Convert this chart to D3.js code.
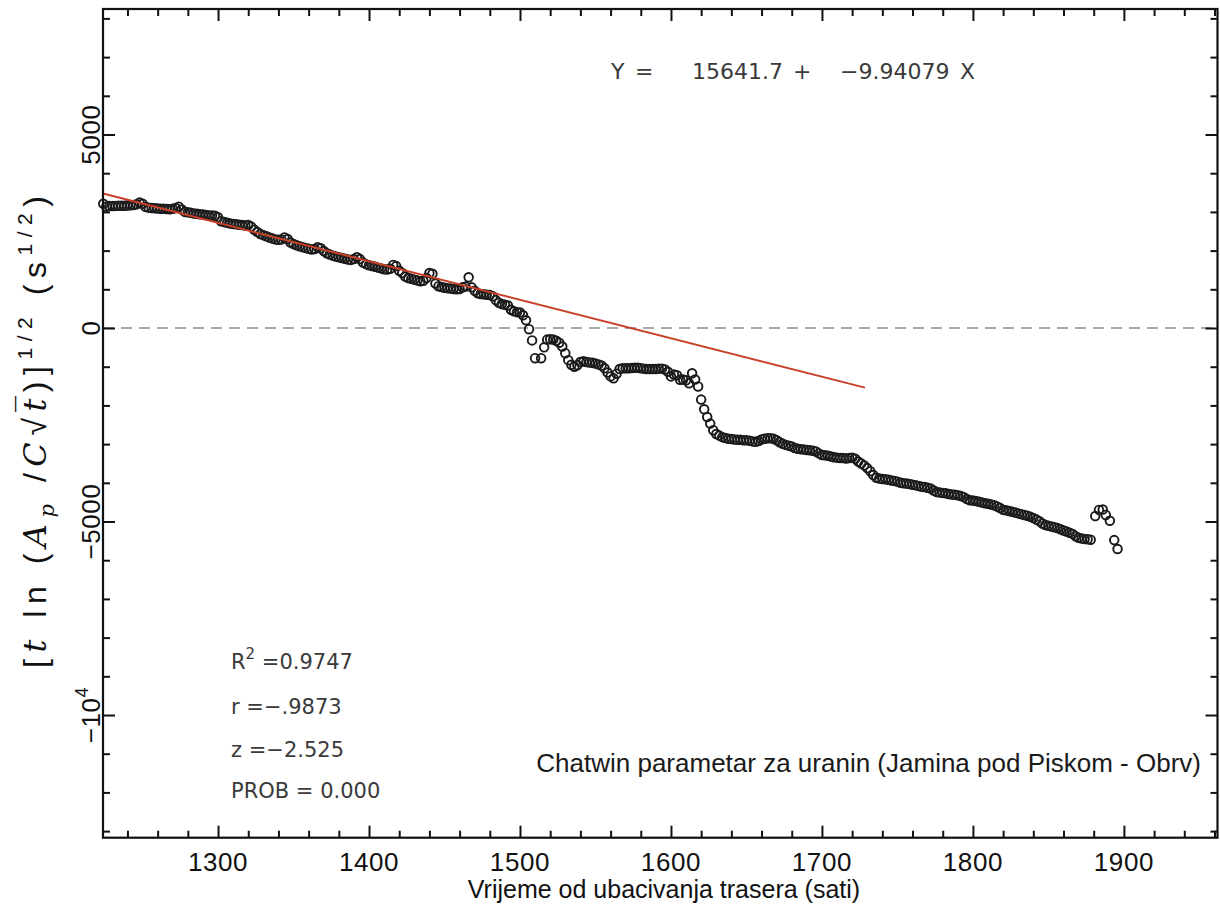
<!DOCTYPE html>
<html><head><meta charset="utf-8">
<script src="https://cdn.jsdelivr.net/npm/d3@7"></script>
<style>body{margin:0;background:#fff}</style>
</head><body>
<svg id="chart" width="1220" height="905"></svg>
<script>
// ---- data ----
const hours = [
1224,1226,1228,1230,1232,1234,1236,1238,1240,1242,1244,1246,1248,1250,1252,1254,1256,1258,1260,1262,
1264,1266,1268,1270,1272,1274,1276,1278,1280,1282,1284,1286,1288,1290,1292,1294,1296,1298,1300,1302,
1304,1306,1308,1310,1312,1314,1316,1318,1320,1322,1324,1326,1328,1330,1332,1334,1336,1338,1340,1342,
1344,1346,1348,1350,1352,1354,1356,1358,1360,1362,1364,1366,1368,1370,1372,1374,1376,1378,1380,1382,
1384,1386,1388,1390,1392,1394,1396,1398,1400,1402,1404,1406,1408,1410,1412,1414,1416,1418,1420,1422,
1424,1426,1428,1430,1432,1434,1436,1438,1440,1442,1444,1446,1448,1450,1452,1454,1456,1458,1460,1462,
1464,1466,1468,1470,1472,1474,1476,1478,1480,1482,1484,1486,1488,1490,1492,1494,1496,1498,1500,1502,
1504,1506,1508,1510,1514,1516,1518,1520,1522,1524,1526,1528,1530,1532,1534,1536,1538,1540,1542,1544,
1546,1548,1550,1552,1554,1556,1558,1560,1562,1564,1566,1568,1570,1572,1574,1576,1578,1580,1582,1584,
1586,1588,1590,1592,1594,1596,1598,1600,1602,1604,1606,1608,1610,1612,1614,1616,1618,1620,1622,1624,
1626,1628,1630,1632,1634,1636,1638,1640,1642,1644,1646,1648,1650,1652,1654,1656,1658,1660,1662,1664,
1666,1668,1670,1672,1674,1676,1678,1680,1682,1684,1686,1688,1690,1692,1694,1696,1698,1700,1702,1704,
1706,1708,1710,1712,1714,1716,1718,1720,1722,1724,1726,1728,1730,1732,1734,1736,1738,1740,1742,1744,
1746,1748,1750,1752,1754,1756,1758,1760,1762,1764,1766,1768,1770,1772,1774,1776,1778,1780,1782,1784,
1786,1788,1790,1792,1794,1796,1798,1800,1802,1804,1806,1808,1810,1812,1814,1816,1818,1820,1822,1824,
1826,1828,1830,1832,1834,1836,1838,1840,1842,1844,1846,1848,1850,1852,1854,1856,1858,1860,1862,1864,
1866,1868,1870,1872,1874,1876,1878,1881,1883.5,1886,1888,1890.7,1893.6,1895.8
];
const chatwin = [
3210,3140,3150,3150,3155,3160,3160,3160,3165,3170,3180,3200,3240,3210,3130,3110,3100,3095,3090,3080,
3080,3075,3070,3080,3100,3135,3060,3000,2990,2980,2960,2950,2940,2930,2920,2910,2910,2900,2860,2760,
2740,2720,2700,2690,2680,2670,2660,2650,2660,2620,2540,2480,2430,2400,2370,2340,2310,2290,2280,2290,
2340,2300,2210,2170,2140,2110,2090,2070,2050,2030,2040,2090,2060,1990,1930,1900,1870,1850,1830,1810,
1790,1770,1760,1780,1830,1780,1690,1650,1620,1600,1580,1560,1540,1520,1510,1530,1630,1600,1480,1420,
1330,1290,1270,1250,1230,1210,1220,1290,1420,1400,1150,1080,1060,1040,1030,1020,1010,1000,1010,1050,
1070,1310,1050,960,900,880,870,860,850,820,720,650,620,600,580,470,430,410,400,330,
200,-30,-320,-780,-780,-500,-300,-290,-300,-330,-380,-480,-650,-830,-950,-1000,-960,-880,-860,-880,
-890,-900,-920,-940,-970,-1040,-1150,-1250,-1300,-1180,-1060,-1040,-1040,-1040,-1035,-1030,-1030,-1040,-1050,-1060,
-1060,-1060,-1060,-1050,-1050,-1070,-1130,-1250,-1200,-1220,-1340,-1330,-1350,-1430,-1170,-1330,-1510,-1850,-2100,-2300,
-2470,-2640,-2740,-2780,-2820,-2840,-2860,-2870,-2880,-2890,-2890,-2900,-2900,-2910,-2930,-2940,-2920,-2880,-2860,-2850,
-2850,-2860,-2900,-2950,-2990,-3020,-3040,-3060,-3100,-3120,-3130,-3140,-3150,-3160,-3170,-3190,-3240,-3280,-3290,-3300,
-3320,-3340,-3350,-3360,-3360,-3370,-3360,-3350,-3380,-3450,-3500,-3550,-3620,-3700,-3800,-3870,-3890,-3900,-3910,-3920,
-3940,-3950,-3970,-4000,-4010,-4020,-4030,-4050,-4060,-4080,-4100,-4110,-4130,-4150,-4200,-4240,-4250,-4260,-4270,-4290,
-4300,-4310,-4320,-4340,-4370,-4420,-4450,-4460,-4470,-4490,-4510,-4530,-4540,-4560,-4580,-4610,-4650,-4700,-4710,-4730,
-4750,-4770,-4790,-4810,-4830,-4850,-4880,-4910,-4950,-4990,-5050,-5090,-5110,-5130,-5150,-5170,-5200,-5230,-5260,-5290,
-5320,-5380,-5420,-5440,-5450,-5460,-5470,-4860,-4700,-4690,-4830,-4980,-5480,-5710
];
const xMajorTicks = [1300,1400,1500,1600,1700,1800,1900];
const yMajorTicks = [5000,0,-5000,-10000];
const yTickBase = ["5000","0","\u22125000","\u221210"];
const yTickSup = ["","","","4"];
const fitIntercept = 15641.7;
const fitSlope = -9.94079;
const fitHours = [1223.8, 1728.5];
const equationParts = ["Y","=","15641.7","+","\u22129.94079","X"];
const statLabels = ["r =\u2212.9873","z =\u22122.525","PROB = 0.000"];
const noteText = "Chatwin parametar za uranin (Jamina pod Piskom - Obrv)";
const xTitle = "Vrijeme od ubacivanja trasera (sati)";

// ---- layout ----
const L = 103, R = 1217.5, T = 9, B = 837.7;
const svg = d3.select("#chart");
const x = d3.scaleLinear().domain([1223.8, 1962]).range([L, R]);
const y = d3.scaleLinear().domain([-13170, 8243]).range([B, T]);
const sans = "'Liberation Sans', Arial, sans-serif";
const dv = "'DejaVu Sans', sans-serif";

// zero dashed line
svg.append("line").attr("x1", L).attr("x2", R).attr("y1", y(0)).attr("y2", y(0))
  .attr("stroke", "#a8a8a8").attr("stroke-width", 1.8).attr("stroke-dasharray", "11,7");

// points
svg.append("g").selectAll("circle").data(hours.map((h, i) => [h, chatwin[i]])).join("circle")
  .attr("cx", d => x(d[0])).attr("cy", d => y(d[1])).attr("r", 4.3)
  .attr("fill", "none").attr("stroke", "#1a1a1a").attr("stroke-width", 1.9);

// regression line
svg.append("line")
  .attr("x1", x(fitHours[0])).attr("y1", y(fitIntercept + fitSlope * fitHours[0]))
  .attr("x2", x(fitHours[1])).attr("y2", y(fitIntercept + fitSlope * fitHours[1]))
  .attr("stroke", "#c9402a").attr("stroke-width", 2);

// axes (inward ticks)
const xMinor = d3.range(1240, 1962, 20).filter(v => v % 100 !== 0);
const yMinor = d3.range(-13000, 8243, 1000).filter(v => v % 5000 !== 0);
function styleAxis(g) { g.select(".domain").remove(); g.selectAll("line").attr("stroke", "#111").attr("stroke-width", 2); g.selectAll("text").remove(); }
svg.append("g").attr("transform", `translate(0,${B})`).call(d3.axisBottom(x).tickValues(xMajorTicks).tickSize(-12)).call(styleAxis);
svg.append("g").attr("transform", `translate(0,${B})`).call(d3.axisBottom(x).tickValues(xMinor).tickSize(-7)).call(styleAxis);
svg.append("g").attr("transform", `translate(0,${T})`).call(d3.axisTop(x).tickValues(xMajorTicks).tickSize(-12)).call(styleAxis);
svg.append("g").attr("transform", `translate(0,${T})`).call(d3.axisTop(x).tickValues(xMinor).tickSize(-7)).call(styleAxis);
svg.append("g").attr("transform", `translate(${L},0)`).call(d3.axisLeft(y).tickValues(yMajorTicks).tickSize(-12)).call(styleAxis);
svg.append("g").attr("transform", `translate(${L},0)`).call(d3.axisLeft(y).tickValues(yMinor).tickSize(-7)).call(styleAxis);
svg.append("g").attr("transform", `translate(${R},0)`).call(d3.axisRight(y).tickValues(yMajorTicks).tickSize(-12)).call(styleAxis);
svg.append("g").attr("transform", `translate(${R},0)`).call(d3.axisRight(y).tickValues(yMinor).tickSize(-7)).call(styleAxis);

// frame
svg.append("rect").attr("x", L).attr("y", T).attr("width", R - L).attr("height", B - T)
  .attr("fill", "none").attr("stroke", "#111").attr("stroke-width", 2.2);

// x tick labels
svg.append("g").selectAll("text").data(xMajorTicks).join("text")
  .attr("x", d => x(d)).attr("y", 871).attr("text-anchor", "middle")
  .attr("font-family", sans).attr("font-size", 26).attr("letter-spacing", 0.6).attr("fill", "#111").text(d => d);

// y tick labels (rotated)
const yl = svg.append("g").selectAll("text").data(yMajorTicks).join("text")
  .attr("transform", d => `translate(100,${y(d)}) rotate(-90)`).attr("text-anchor", "middle")
  .attr("font-family", sans).attr("font-size", 26).attr("letter-spacing", 0.6).attr("fill", "#111");
yl.append("tspan").text((d, i) => yTickBase[i]);
yl.append("tspan").attr("font-size", 18).attr("dy", -12).text((d, i) => yTickSup[i]);

// axis titles
svg.append("text").attr("x", 664).attr("y", 898).attr("text-anchor", "middle")
  .attr("font-family", sans).attr("font-size", 25).attr("fill", "#111").text(xTitle);

const yt = svg.append("text").attr("transform", "translate(46,432) rotate(-90)").attr("text-anchor", "middle")
  .attr("font-family", sans).attr("font-size", 32).attr("fill", "#111")
  .attr("textLength", 472).attr("lengthAdjust", "spacing");
const serifI = "'DejaVu Serif', 'Liberation Serif', serif";
function part(txt, opts = {}) {
  const s = yt.append("tspan").text(txt);
  if (opts.it) s.attr("font-family", serifI).attr("font-style", "italic");
  if (opts.fs) s.attr("font-size", opts.fs);
  if (opts.dy) s.attr("dy", opts.dy);
  return s;
}
part("[");
part("t", {it: true});
part(" ln (");
part("A", {it: true});
part("p", {it: true, fs: 21, dy: 8});
part(" /", {dy: -8});
part("C", {it: true});
part("\u221A");
part("t\u0305", {it: true});
part(")]");
part("1/2", {fs: 21, dy: -14});
part(" (s", {dy: 14});
part("1/2", {fs: 21, dy: -14});
part(")", {dy: 14});

// equation
const eqX = [611, 635, 692, 793, 840, 960];
svg.append("g").selectAll("text").data(equationParts).join("text")
  .attr("x", (d, i) => eqX[i]).attr("y", 79)
  .attr("font-family", dv).attr("font-size", 22).attr("fill", "#3a3a3a").text(d => d);

// stats
const r2 = svg.append("text").attr("x", 231).attr("y", 669).attr("font-family", dv).attr("font-size", 21).attr("fill", "#3a3a3a");
r2.append("tspan").text("R");
r2.append("tspan").attr("font-size", 15).attr("dy", -10).text("2");
r2.append("tspan").attr("dy", 10).text(" =0.9747");
svg.append("g").selectAll("text").data(statLabels).join("text")
  .attr("x", 231).attr("y", (d, i) => [714, 757, 798][i])
  .attr("font-family", dv).attr("font-size", 21).attr("fill", "#3a3a3a").text(d => d);

// note
svg.append("text").attr("x", 1201).attr("y", 772).attr("text-anchor", "end")
  .attr("font-family", sans).attr("font-size", 26).attr("fill", "#1a1a1a").text(noteText);
</script>
</body></html>
